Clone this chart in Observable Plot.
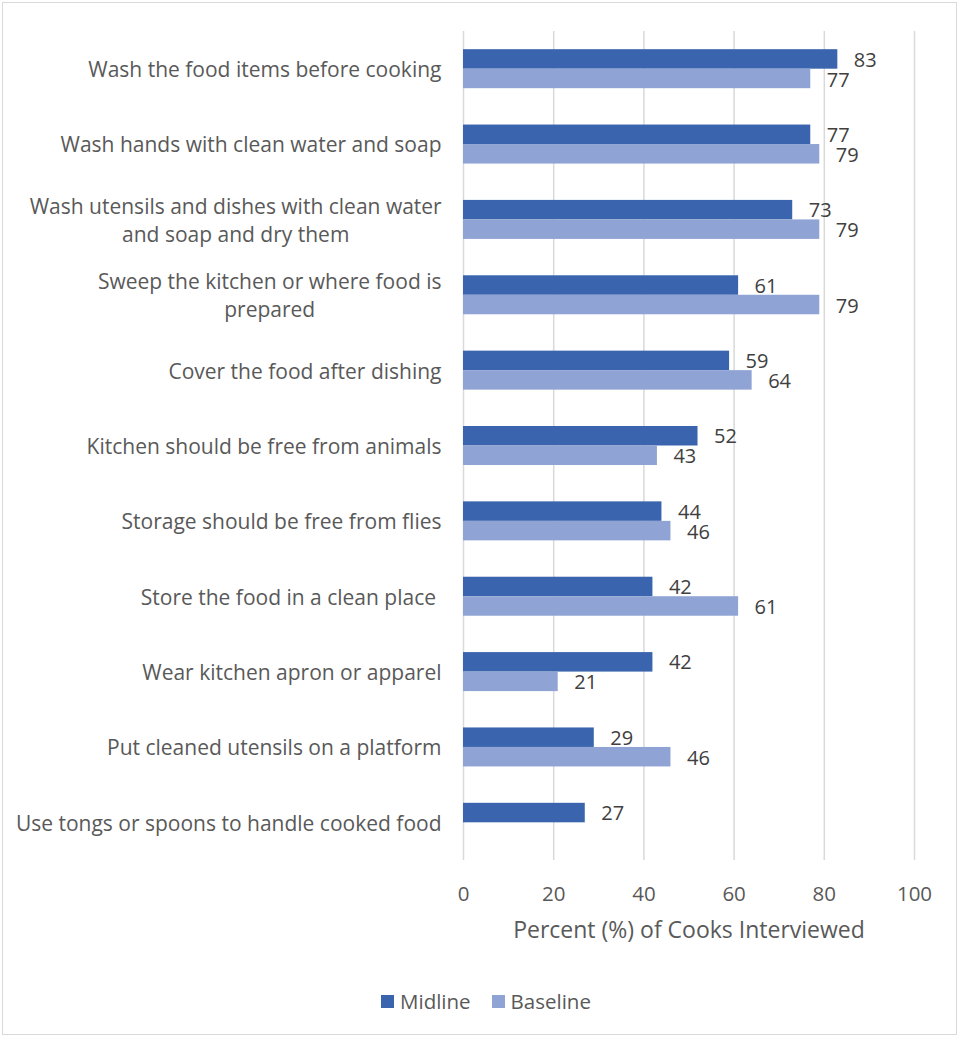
<!DOCTYPE html>
<html>
<head>
<meta charset="utf-8">
<script src="https://cdn.jsdelivr.net/npm/d3@7"></script>
<script src="https://cdn.jsdelivr.net/npm/@observablehq/plot@0.6"></script>
<style>
  html, body { margin: 0; padding: 0; background: #fff; }
  #wrap { position: relative; width: 962px; height: 1040px; overflow: hidden; font-family: "Open Sans", sans-serif; }
  #frame { position: absolute; left: 2px; top: 2px; width: 955px; height: 1033px; border: 1px solid #d9d9d9; box-sizing: border-box; }
  #chart { position: absolute; left: 0; top: 0; }
  #legend { position: absolute; left: 0; top: 987px; width: 962px; display: flex; justify-content: center; gap: 21px; font-size: 20.5px; color: #595959; padding-left: 10px; box-sizing: border-box; }
  .item { display: flex; align-items: center; gap: 6px; }
  .sw { width: 13px; height: 13px; display: inline-block; }
</style>
</head>
<body>
<div id="wrap">
  <div id="frame"></div>
  <div id="chart"></div>
  <div id="legend"></div>
</div>
<script>
const categories = [
  "Wash the food items before cooking",
  "Wash hands with clean water and soap",
  "Wash utensils and dishes with clean water\nand soap and dry them",
  "Sweep the kitchen or where food is\nprepared",
  "Cover the food after dishing",
  "Kitchen should be free from animals",
  "Storage should be free from flies",
  "Store the food in a clean place\u00a0",
  "Wear kitchen apron or apparel",
  "Put cleaned utensils on a platform",
  "Use tongs or spoons to handle cooked food"
];
const midline  = [83, 77, 73, 61, 59, 52, 44, 42, 42, 29, 27];
const baseline = [77, 79, 79, 79, 64, 43, 46, 61, 21, 46, null];
const seriesNames = ["Midline", "Baseline"];
const seriesColors = ["#3a64ad", "#8fa4d4"];
const xTicks = [0, 20, 40, 60, 80, 100];

const midData = categories.map((c, i) => ({category: c, value: midline[i]}));
const baseData = categories.map((c, i) => ({category: c, value: baseline[i]})).filter(d => d.value != null);

const W = 962, H = 960, mTop = 31, mBottom = 100;
const band = (H - mTop - mBottom) / categories.length;
const barH = 19.5;
const half = band / 2;
const FONT = "'Open Sans', sans-serif";

const plot = Plot.plot({
  width: W,
  height: H,
  marginLeft: 463,
  marginRight: 48,
  marginTop: mTop,
  marginBottom: mBottom,
  style: {fontFamily: FONT, color: "#595959", background: "transparent"},
  x: {domain: [0, 100], ticks: xTicks},
  y: {domain: categories, padding: 0, round: false},
  marks: [
    Plot.gridX(xTicks, {stroke: "#d9d9d9", strokeOpacity: 1, strokeWidth: 1.5}),
    Plot.barX(midData, {y: "category", x: "value", fill: seriesColors[0], insetTop: half - barH, insetBottom: half}),
    Plot.barX(baseData, {y: "category", x: "value", fill: seriesColors[1], insetTop: half, insetBottom: half - barH}),
    Plot.text(midData, {y: "category", x: "value", text: d => String(d.value), textAnchor: "start", dx: 16, dy: -9, fontSize: 20, fill: "#404040"}),
    Plot.text(baseData, {y: "category", x: "value", text: d => String(d.value), textAnchor: "start", dx: 16, dy: 11, fontSize: 20, fill: "#404040"}),
    Plot.axisX(xTicks, {tickSize: 0, tickPadding: 26, fontSize: 20.5, fill: "#595959", label: null}),
    Plot.text(["Percent (%) of Cooks Interviewed"], {frameAnchor: "bottom", dy: 77, fontSize: 23, fill: "#595959"}),
    Plot.axisY({tickSize: 0, tickPadding: 22, fontSize: 21, fill: "#595959", lineHeight: 1.33, dy: -1, label: null})
  ]
});
document.getElementById("chart").appendChild(plot);

// center multi-line category labels within their block (as in the original)
plot.querySelectorAll("g[aria-label='y-axis tick label'] text").forEach(t => {
  const spans = t.querySelectorAll("tspan");
  if (spans.length > 1) {
    const bb = t.getBBox();
    const cx = bb.x + bb.width / 2;
    t.setAttribute("text-anchor", "middle");
    spans.forEach(s => s.setAttribute("x", cx));
  }
});

const legend = document.getElementById("legend");
seriesNames.forEach((n, i) => {
  const it = document.createElement("div");
  it.className = "item";
  const sw = document.createElement("span");
  sw.className = "sw";
  sw.style.background = seriesColors[i];
  const lb = document.createElement("span");
  lb.textContent = n;
  it.appendChild(sw); it.appendChild(lb);
  legend.appendChild(it);
});
</script>
</body>
</html>
